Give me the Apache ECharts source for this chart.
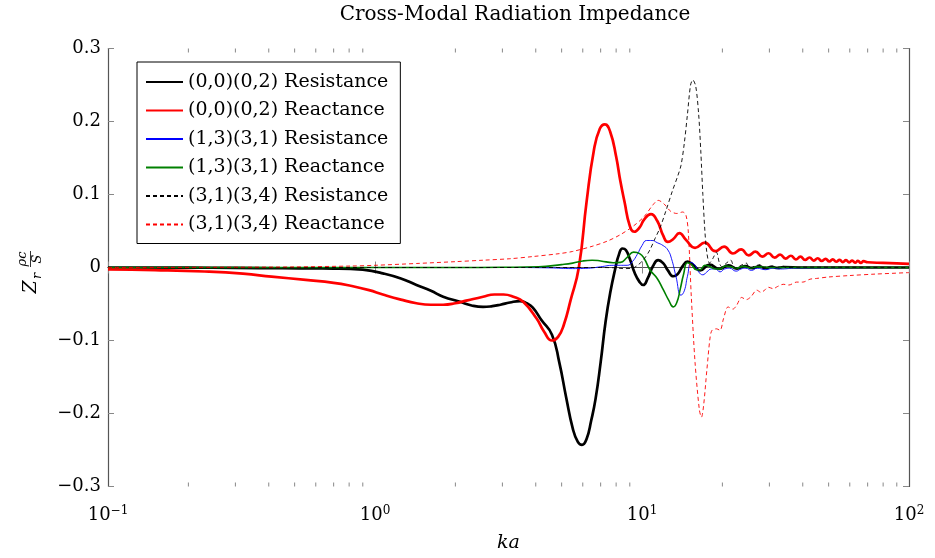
<!DOCTYPE html>
<html>
<head>
<meta charset="utf-8">
<script src="https://cdn.jsdelivr.net/npm/echarts@6/dist/echarts.min.js"></script>
<style>
  html, body { margin: 0; padding: 0; background: #fff; }
  #chart { width: 935px; height: 558px; }
</style>
</head>
<body>
<div id="chart"></div>
<script>
// ---- data: [ka, normalised impedance] ----
const seriesNames = [
  '(0,0)(0,2) Resistance',
  '(0,0)(0,2) Reactance',
  '(1,3)(3,1) Resistance',
  '(1,3)(3,1) Reactance',
  '(3,1)(3,4) Resistance',
  '(3,1)(3,4) Reactance'
];

const res0002 = [[0.1,0],[0.2,-0.0002],[0.3,-0.0005],[0.45,-0.001],[0.6,-0.0013],[0.7,-0.0015],[0.81,-0.002],[0.9,-0.003],[1.07,-0.008],[1.25,-0.015],[1.43,-0.024],[1.62,-0.032],[1.8,-0.04],[2.08,-0.047],[2.3,-0.052],[2.54,-0.054],[2.75,-0.053],[2.95,-0.051],[3.2,-0.048],[3.49,-0.046],[3.7,-0.049],[3.9,-0.055],[4.2,-0.072],[4.6,-0.092],[4.9,-0.13],[5.2,-0.178],[5.5,-0.22],[5.75,-0.239],[5.96,-0.243],[6.2,-0.235],[6.45,-0.21],[6.7,-0.18],[7.0,-0.13],[7.3,-0.075],[7.6,-0.035],[7.96,0],[8.2,0.018],[8.45,0.026],[8.7,0.024],[9.0,0.012],[9.4,-0.008],[9.8,-0.02],[10.1,-0.024],[10.5,-0.015],[11.0,0.002],[11.5,0.01],[12.0,0.006],[12.5,-0.004],[13.1,-0.012],[13.6,-0.009],[14.2,0.002],[14.8,0.008],[15.5,0.004],[16.5,-0.004],[17.9,0.004],[19.5,-0.002],[21.1,0.003],[22.7,-0.0015],[24.3,0.002],[25.9,-0.001],[27.5,0.0015],[29.0,-0.001],[30.6,0.001],[32.2,-0.0007],[33.8,0.0007],[40,0],[50,0],[100,0]];

const rea0002 = [[0.1,-0.0025],[0.15,-0.0035],[0.23,-0.0055],[0.32,-0.0085],[0.41,-0.0125],[0.55,-0.017],[0.7,-0.021],[0.81,-0.025],[0.95,-0.031],[1.07,-0.037],[1.25,-0.044],[1.43,-0.049],[1.62,-0.051],[1.8,-0.051],[2.0,-0.049],[2.22,-0.045],[2.54,-0.04],[2.8,-0.037],[3.03,-0.037],[3.3,-0.04],[3.59,-0.047],[4.03,-0.07],[4.3,-0.088],[4.6,-0.1],[4.85,-0.095],[5.1,-0.078],[5.4,-0.045],[5.8,0],[6.2,0.09],[6.6,0.16],[6.95,0.19],[7.26,0.196],[7.6,0.186],[8.0,0.152],[8.3,0.118],[8.6,0.09],[9.0,0.057],[9.35,0.049],[9.8,0.055],[10.2,0.066],[10.8,0.073],[11.4,0.064],[12.0,0.044],[12.5,0.035],[13.1,0.039],[13.8,0.047],[14.6,0.038],[15.8,0.027],[17.2,0.034],[18.8,0.0223],[20.3,0.0286],[21.9,0.0192],[23.5,0.0247],[25.1,0.0167],[26.6,0.0218],[28.2,0.0149],[29.8,0.0195],[31.4,0.0134],[32.9,0.0176],[34.5,0.0122],[36.1,0.0161],[37.7,0.0111],[39.2,0.0148],[40.8,0.0103],[42.4,0.0137],[44.0,0.0095],[45.5,0.0127],[47.1,0.0089],[48.7,0.0119],[50.3,0.0083],[51.8,0.0112],[53.4,0.0079],[55.0,0.0105],[56.5,0.0074],[58.1,0.01],[59.7,0.007],[61.3,0.0095],[62.8,0.0067],[64.4,0.009],[66.0,0.0064],[67.6,0.0086],[70,0.0072],[80,0.0063],[90,0.0056],[100,0.005]];

const res1331 = [[0.1,0],[3,0],[4.5,-0.0005],[5.5,-0.0015],[6.3,-0.001],[7,0.001],[7.8,0.003],[8.8,0.003],[9.2,0.008],[9.6,0.018],[10.0,0.03],[10.4,0.037],[10.9,0.037],[11.4,0.034],[12.0,0.03],[12.5,0.024],[12.9,0.012],[13.4,-0.012],[14.0,-0.038],[14.4,-0.032],[14.8,-0.012],[15.3,0.007],[15.8,0.003],[16.3,-0.006],[16.9,-0.01],[17.5,-0.006],[18.2,-0.002],[18.8,-0.002],[19.6,-0.006],[20.4,-0.002],[21.3,-0.001],[22.5,-0.005],[23.5,-0.002],[24.5,-0.001],[25.7,-0.004],[27,-0.001],[29,-0.003],[31,-0.001],[33,-0.002],[37,-0.001],[45,-0.0005],[100,0]];

const rea1331 = [[0.1,0],[2,0],[3,0.0003],[4.1,0.001],[5,0.004],[5.5,0.006],[6.0,0.009],[6.5,0.01],[7.0,0.009],[7.8,0.0066],[8.3,0.007],[8.8,0.014],[9.3,0.021],[9.8,0.019],[10.2,0.012],[10.7,-0.003],[11.4,-0.015],[12.0,-0.03],[12.6,-0.045],[13.1,-0.054],[13.5,-0.048],[13.9,-0.03],[14.3,-0.01],[14.8,0.0066],[15.3,0.004],[16.0,-0.003],[16.5,-0.003],[17.2,0.003],[17.8,0.002],[18.8,-0.002],[19.6,-0.002],[20.5,0.002],[21.5,0.001],[22.5,-0.001],[24,0.0015],[25.5,-0.0005],[27,0.001],[30,0],[100,0]];

const res3134 = [[0.1,0],[7,0],[8,-0.0005],[8.5,-0.0015],[9.2,-0.001],[9.7,0.004],[10.2,0.012],[10.7,0.024],[11.2,0.04],[11.7,0.055],[12.3,0.078],[13.0,0.105],[13.6,0.125],[14.0,0.14],[14.4,0.17],[14.8,0.21],[15.2,0.25],[15.5,0.257],[15.9,0.248],[16.3,0.21],[16.6,0.16],[16.9,0.1],[17.2,0.05],[17.5,0.02],[17.9,0.006],[18.4,0.012],[19.0,0.021],[19.5,0.006],[19.9,0.001],[20.7,0.006],[21.5,0.01],[22.0,0.002],[22.4,-0.001],[23.5,0.003],[24.6,0.006],[25.0,0.001],[25.4,0],[26.5,0.002],[27.7,0.004],[28.1,0],[29.5,0.001],[31,0.002],[31.5,0],[34,0.0015],[34.5,0],[40,0.0005],[100,0]];

const rea3134 = [[0.1,0],[0.3,0.0003],[0.5,0.0008],[0.81,0.002],[1.0,0.003],[1.43,0.0055],[2.0,0.008],[2.54,0.01],[3.2,0.012],[3.9,0.015],[4.9,0.019],[5.5,0.022],[6.5,0.029],[7.4,0.036],[8.3,0.045],[9.3,0.057],[10.2,0.07],[11.0,0.086],[11.5,0.092],[12.1,0.087],[12.8,0.077],[13.5,0.074],[14.2,0.076],[14.6,0.072],[14.9,0.05],[15.3,-0.04],[15.8,-0.13],[16.4,-0.195],[16.7,-0.205],[17.0,-0.19],[17.5,-0.14],[18.0,-0.095],[18.3,-0.086],[19.0,-0.084],[19.6,-0.086],[20.2,-0.07],[21.0,-0.054],[21.9,-0.057],[22.6,-0.052],[23.6,-0.041],[24.6,-0.044],[25.6,-0.04],[26.9,-0.031],[27.9,-0.034],[28.8,-0.031],[29.7,-0.027],[31,-0.029],[32.2,-0.026],[33.8,-0.023],[35.5,-0.024],[37.9,-0.02],[40,-0.02],[42.6,-0.016],[45,-0.015],[50,-0.013],[60,-0.011],[75,-0.009],[100,-0.007]];

// axis ranges and ticks
const kaMin = 0.1, kaMax = 100;
const zMin = -0.3, zMax = 0.3, zStep = 0.1;
const minorTickKa = [0.2,0.3,0.4,0.5,0.6,0.7,0.8,0.9,2,3,4,5,6,7,8,9,20,30,40,50,60,70,80,90];

const FONT = 'DejaVu Serif';
const FRAME = '#555';
const TICK = '#888';

const chart = echarts.init(document.getElementById('chart'), null, { renderer: 'canvas' });

function kaLabel(v) {
  const e = Math.round(Math.log10(v));
  return '10{sup|' + (e < 0 ? '\u2212' + (-e) : e) + '}';
}
function zLabel(v) {
  if (Math.abs(v) < 1e-9) return '0';
  return (v < 0 ? '\u2212' : '') + Math.abs(v).toFixed(1);
}

function lineSeries(name, data, color, width, dashed, smooth) {
  return {
    name: name,
    type: 'line',
    data: data,
    symbol: 'none',
    smooth: smooth,
    lineStyle: { color: color, width: width, type: dashed ? [4, 3] : 'solid' },
    itemStyle: { color: color },
    emphasis: { disabled: true },
    z: 3
  };
}

const option = {
  animation: false,
  backgroundColor: '#fff',
  title: {
    text: 'Cross-Modal Radiation Impedance',
    left: 510, top: 0, textAlign: 'center',
    textStyle: { fontFamily: FONT, fontSize: 20, fontWeight: 'normal', color: '#000' }
  },
  grid: { left: 108, right: 26, top: 48.5, bottom: 71.5, containLabel: false },
  legend: {
    data: seriesNames,
    orient: 'vertical',
    left: 137, top: 62,
    padding: [9, 12, 8, 8],
    itemGap: 6.5,
    itemWidth: 37, itemHeight: 14,
    borderColor: '#000', borderWidth: 1,
    backgroundColor: '#fff',
    selectedMode: false,
    itemStyle: { opacity: 0, color: 'rgba(0,0,0,0)', borderWidth: 0 },
    textStyle: { fontFamily: FONT, fontSize: 19, color: '#000', lineHeight: 22 }
  },
  xAxis: [{
    type: 'log', logBase: 10, min: kaMin, max: kaMax,
    position: 'bottom',
    name: 'ka', nameLocation: 'middle', nameGap: 47,
    nameTextStyle: { fontFamily: FONT, fontStyle: 'italic', fontSize: 19, color: '#000' },
    axisLine: { lineStyle: { color: FRAME, width: 1.2 } },
    axisTick: { inside: true, length: 6, lineStyle: { color: TICK } },
    splitLine: { show: false },
    axisLabel: {
      margin: 18, color: '#000', fontFamily: FONT, fontSize: 18,
      formatter: kaLabel,
      rich: { sup: { fontFamily: FONT, fontSize: 12, padding: [0, 0, 10, 0] } }
    }
  }, {
    type: 'log', logBase: 10, min: kaMin, max: kaMax,
    position: 'top',
    axisLine: { lineStyle: { color: FRAME, width: 1.2 } },
    axisTick: { inside: true, length: 6, lineStyle: { color: TICK } },
    axisLabel: { show: false },
    splitLine: { show: false }
  }],
  yAxis: [{
    type: 'value', min: zMin, max: zMax, interval: zStep,
    position: 'left',
    axisLine: { show: true, lineStyle: { color: FRAME, width: 1.2 } },
    axisTick: { show: true, inside: true, length: 6, lineStyle: { color: TICK } },
    splitLine: { show: false },
    axisLabel: { margin: 7, color: '#000', fontFamily: FONT, fontSize: 18, formatter: zLabel }
  }, {
    type: 'value', min: zMin, max: zMax, interval: zStep,
    position: 'right',
    axisLine: { show: true, lineStyle: { color: FRAME, width: 1.2 } },
    axisTick: { show: true, inside: true, length: 6, lineStyle: { color: TICK } },
    splitLine: { show: false },
    axisLabel: { show: false }
  }],
  graphic: [{
    type: 'group',
    x: 30, y: 269,
    rotation: Math.PI / 2,
    children: [
      { type: 'text', x: -18, y: 1, style: { text: 'Z', font: 'italic 19px "DejaVu Serif"', fill: '#000', align: 'center', verticalAlign: 'middle' } },
      { type: 'text', x: -7, y: 8, style: { text: 'r', font: 'italic 13px "DejaVu Serif"', fill: '#000', align: 'center', verticalAlign: 'middle' } },
      { type: 'text', x: 10, y: -7, style: { text: '\u03c1c', font: 'italic 13px "DejaVu Serif"', fill: '#000', align: 'center', verticalAlign: 'middle' } },
      { type: 'line', shape: { x1: 2, y1: 0.5, x2: 18, y2: 0.5 }, style: { stroke: '#000', lineWidth: 0.8 } },
      { type: 'text', x: 10, y: 8, style: { text: 'S', font: 'italic 13px "DejaVu Serif"', fill: '#000', align: 'center', verticalAlign: 'middle' } }
    ]
  }],
  series: [
    lineSeries(seriesNames[0], res0002, '#000000', 2.7, false, 0.5),
    lineSeries(seriesNames[1], rea0002, '#ff0000', 2.7, false, 0.5),
    lineSeries(seriesNames[2], res1331, '#0000ff', 0.9, false, 0.5),
    lineSeries(seriesNames[3], rea1331, '#008000', 1.6, false, 0.5),
    lineSeries(seriesNames[4], res3134, '#000000', 0.9, true, 0.3),
    lineSeries(seriesNames[5], rea3134, '#ff0000', 0.9, true, 0.3),
    {
      // minor ticks of the logarithmic ka axis, drawn on the bottom and top frame
      name: 'kaMinorTicks',
      type: 'custom',
      silent: true,
      z: 2,
      data: minorTickKa.map(function (v) { return [v, 0]; }),
      renderItem: function (params, api) {
        const x = api.coord([api.value(0), 0])[0];
        const cs = params.coordSys;
        const yb = cs.y + cs.height, yt = cs.y;
        return {
          type: 'group',
          children: [
            { type: 'line', shape: { x1: x, y1: yb, x2: x, y2: yb - 4 }, style: { stroke: TICK, lineWidth: 1 } },
            { type: 'line', shape: { x1: x, y1: yt, x2: x, y2: yt + 4 }, style: { stroke: TICK, lineWidth: 1 } }
          ]
        };
      }
    }
  ]
};

chart.setOption(option);
</script>
</body>
</html>
